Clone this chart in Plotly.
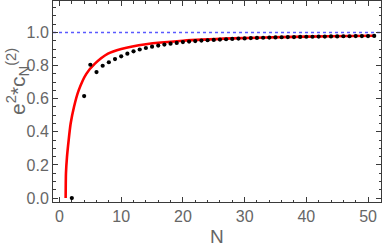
import plotly.graph_objects as go

# Discrete values (black dots)
dot_N = [2, 4, 5, 6, 7, 8, 9, 10, 11, 12, 13, 14, 15, 16, 17, 18, 19, 20,
         21, 22, 23, 24, 25, 26, 27, 28, 29, 30, 31, 32, 33, 34, 35, 36, 37,
         38, 39, 40, 41, 42, 43, 44, 45, 46, 47, 48, 49, 50, 51]
dot_val = [0.0, 0.616, 0.805, 0.761, 0.799, 0.820, 0.839, 0.856, 0.872, 0.886,
           0.897, 0.906, 0.914, 0.921, 0.927, 0.932, 0.937, 0.942, 0.945, 0.948,
           0.951, 0.953, 0.955, 0.957, 0.959, 0.961, 0.963, 0.964, 0.966, 0.967,
           0.968, 0.969, 0.970, 0.971, 0.972, 0.972, 0.973, 0.974, 0.974, 0.975,
           0.975, 0.976, 0.976, 0.977, 0.977, 0.978, 0.978, 0.978, 0.979]

# Continuous curve (red)
curve_N = [1.0, 1.05, 1.22, 1.49, 1.81, 2.35, 3.11, 4.35, 5.7, 7.86, 10, 14,
           20, 28, 36, 44, 51]
curve_val = [0.0, 0.15, 0.25, 0.35, 0.45, 0.55, 0.65, 0.75, 0.81, 0.872, 0.900,
             0.929, 0.950, 0.964, 0.972, 0.977, 0.980]

limit_val = 1.0

x_ticks = [0, 10, 20, 30, 40, 50]
y_ticks = [0.0, 0.2, 0.4, 0.6, 0.8, 1.0]
y_tick_text = ["0.0", "0.2", "0.4", "0.6", "0.8", "1.0"]

FONT = "Liberation Sans, Arial, sans-serif"
GRAY = "#666666"
FRAME = "#3a3a3a"

fig = go.Figure()
fig.add_trace(go.Scatter(x=curve_N, y=curve_val, mode="lines",
                         line=dict(color="#ff0000", width=2.6, shape="spline", smoothing=0.6),
                         hoverinfo="skip"))
fig.add_trace(go.Scatter(x=dot_N, y=dot_val, mode="markers",
                         marker=dict(color="black", size=4.2),
                         hoverinfo="skip"))
fig.add_shape(type="line", xref="paper", x0=0, x1=1, yref="y", y0=limit_val, y1=limit_val,
              line=dict(color="#5a5aff", width=1.4, dash="dot"), layer="below")

fig.update_layout(
    template="none",
    width=382, height=249,
    margin=dict(l=53, r=1, t=1, b=47, autoexpand=False),
    paper_bgcolor="white", plot_bgcolor="white",
    showlegend=False,
    font=dict(family=FONT, color=GRAY, size=16),
)
fig.update_xaxes(range=[-1.05, 52.1], tickvals=x_ticks, ticks="inside", ticklen=5,
                 tickcolor=FRAME, tickwidth=1, automargin=False,
                 minor=dict(dtick=2, ticks="inside", ticklen=2.5, tickcolor=FRAME),
                 showgrid=False, zeroline=False, showline=True, linecolor=FRAME,
                 linewidth=1, mirror="ticks", tickfont=dict(size=16, color=GRAY))
fig.update_yaxes(range=[-0.024, 1.19], tickvals=y_ticks, ticktext=y_tick_text,
                 ticks="inside", ticklen=5, tickcolor=FRAME, tickwidth=1, automargin=False,
                 minor=dict(dtick=0.05, ticks="inside", ticklen=2.5, tickcolor=FRAME),
                 showgrid=False, zeroline=False, showline=True, linecolor=FRAME,
                 linewidth=1, mirror="ticks", tickfont=dict(size=16, color=GRAY))

fig.add_annotation(text="N", xref="paper", yref="paper", x=0.5, y=-0.172,
                   xanchor="center", yanchor="middle", showarrow=False,
                   font=dict(size=19, color=GRAY, family=FONT))
fig.add_annotation(text="e<sup>2</sup>*c<sub>N</sub><sup>(2)</sup>", xref="paper", yref="paper",
                   x=-0.108, y=0.60, xanchor="center", yanchor="middle", textangle=-90,
                   showarrow=False, font=dict(size=21, color=GRAY, family=FONT))

fig.write_html("out.html", config={"displayModeBar": False},
               post_script="document.body.style.margin='0';document.body.style.padding='0';"
                           "document.documentElement.style.overflow='hidden';")
